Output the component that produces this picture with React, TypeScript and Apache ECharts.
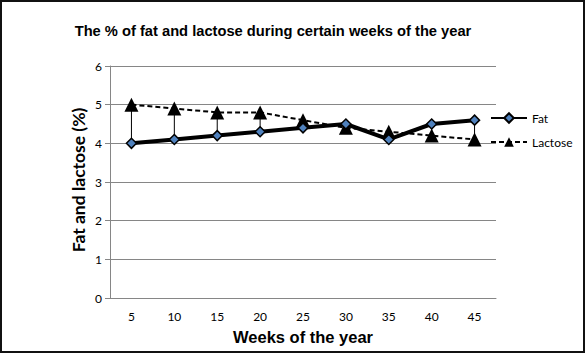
import React, { useEffect, useRef } from "react";
import * as echarts from "echarts";

const weeks = ["5", "10", "15", "20", "25", "30", "35", "40", "45"];
const fat = [4.0, 4.1, 4.2, 4.3, 4.4, 4.5, 4.1, 4.5, 4.6];
const lactose = [5.0, 4.9, 4.8, 4.8, 4.6, 4.4, 4.3, 4.2, 4.1];
const titleText = "The % of fat and lactose during certain weeks of the year";
const xName = "Weeks of the year";
const yName = "Fat and lactose (%)";

export default function App() {
  const ref = useRef<HTMLDivElement>(null);
  useEffect(() => {
    if (!ref.current) return;
    const chart = echarts.init(ref.current, null, { renderer: "svg" });
    const hiLo = weeks.map((_, i) => [i, fat[i], lactose[i]]);
    chart.setOption({
      animation: false,
      backgroundColor: "#fff",
      title: {
        text: titleText,
        left: 268,
        top: 18,
        textAlign: "center",
        textStyle: { fontFamily: "'Liberation Sans', Arial", fontSize: 14.7, fontWeight: "bold", color: "#000" },
      },
      graphic: [
        {
          type: "rect",
          shape: { x: 1, y: 1, width: 583, height: 351 },
          style: { fill: "none", stroke: "#111", lineWidth: 2 },
          silent: true,
        },
        {
          type: "text",
          x: 303,
          y: 337,
          style: {
            text: xName,
            font: "bold 16.5px 'Liberation Sans', Arial",
            fill: "#000",
            align: "center",
            verticalAlign: "middle",
          },
        },
        {
          type: "text",
          x: 78,
          y: 180,
          rotation: Math.PI / 2,
          style: {
            text: yName,
            font: "bold 17.5px Lato",
            fill: "#000",
            align: "center",
            verticalAlign: "middle",
          },
        },
      ],
      legend: {
        orient: "vertical",
        left: 485,
        top: 107,
        itemWidth: 36,
        itemHeight: 12,
        itemGap: 12,
        data: ["Fat", "Lactose"],
        textStyle: { fontFamily: "Lato", fontSize: 12, color: "#000" },
      },
      grid: { left: 110, right: 92, top: 66, bottom: 60 },
      xAxis: {
        type: "category",
        data: weeks,
        boundaryGap: true,
        axisLine: { lineStyle: { color: "#868686" } },
        axisTick: { show: false },
        axisLabel: { fontFamily: "Lato", fontSize: 12, color: "#000", margin: 12 },
      },
      yAxis: {
        type: "value",
        min: 0,
        max: 6,
        interval: 1,
        axisLine: { show: true, lineStyle: { color: "#868686" } },
        axisTick: { show: true, length: 5, lineStyle: { color: "#868686" } },
        splitLine: { lineStyle: { color: "#868686" } },
        axisLabel: { fontFamily: "Lato", fontSize: 12, color: "#000", margin: 8 },
      },
      series: [
        {
          type: "custom",
          name: "hilo",
          data: hiLo,
          encode: { x: 0, y: [1, 2] },
          z: 1,
          renderItem: (_params: any, api: any) => {
            const a = api.coord([api.value(0), api.value(1)]);
            const b = api.coord([api.value(0), api.value(2)]);
            return {
              type: "line",
              shape: { x1: a[0], y1: a[1], x2: b[0], y2: b[1] },
              style: { stroke: "#000", lineWidth: 1 },
            };
          },
        },
        {
          type: "line",
          name: "Fat",
          data: fat,
          z: 3,
          symbol: "diamond",
          symbolSize: 10,
          lineStyle: { color: "#000", width: 4 },
          itemStyle: { color: "#4f81bd", borderColor: "#000", borderWidth: 1.5 },
        },
        {
          type: "line",
          name: "Lactose",
          data: lactose,
          z: 2,
          symbol: "triangle",
          symbolSize: 14,
          lineStyle: { color: "#000", width: 2, type: [5, 3] },
          itemStyle: { color: "#000" },
        },
      ],
    });
    return () => chart.dispose();
  }, []);
  return <div ref={ref} style={{ position: "fixed", left: 0, top: 0, width: 588, height: 358 }} />;
}
